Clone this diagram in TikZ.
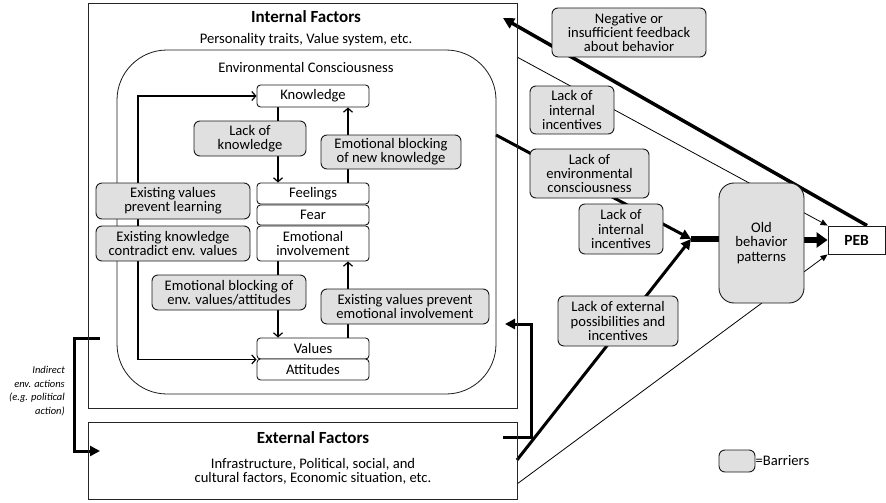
\documentclass[tikz,border=0pt]{standalone}
\usepackage{fontspec}
\setmainfont{Carlito}
\usetikzlibrary{arrows.meta}
\pgfdeclarelayer{bg}
\pgfsetlayers{bg,main}
\begin{document}
\begin{tikzpicture}[x=1pt,y=-1pt,
  txt/.style={font=\fontsize{14.6}{14.2}\selectfont, inner sep=0pt, align=center},
  wbox/.style={txt, draw=black!90, fill=white, rounded corners=3.5pt, line width=0.9pt, minimum width=112pt},
  barrier/.style={txt, draw=black!90, fill=black!12, rounded corners=6pt, line width=0.9pt},
  frame/.style={draw=black!85, line width=0.9pt, inner sep=0pt},
  inarr/.style={line width=1.2pt, -{Straight Barb[length=4pt,width=9pt]}},
  looparr/.style={line width=1.2pt, {Straight Barb[length=4pt,width=9pt]}-{Straight Barb[length=4pt,width=9pt]}},
  thinarr/.style={line width=0.8pt, -{Triangle[length=7pt,width=6pt]}},
  thickarr/.style={line width=3pt, -{Triangle[length=10pt,width=10pt]}},
]
\useasboundingbox (0,0) rectangle (886,503);

% frames
\node[frame, minimum width=429pt, minimum height=405pt] (internal) at (302.5,205.5) {};
\node[frame, minimum width=429pt, minimum height=77pt] (external) at (302.5,460.5) {};
\node[draw=black!90, line width=0.8pt, rounded corners=50pt, minimum width=379pt, minimum height=344pt, inner sep=0pt] (envc) at (306.5,222) {};

% titles
\node[txt, font=\fontsize{17}{17}\selectfont\bfseries] (inttitle) at (306,17) {Internal Factors};
\node[txt] (intsub) at (306,40) {Personality traits, Value system, etc.};
\node[txt] (envtitle) at (306,67) {Environmental Consciousness};
\node[txt, font=\fontsize{17}{17}\selectfont\bfseries] (exttitle) at (313,438) {External Factors};
\node[txt] (extsub) at (313,471) {Infrastructure, Political, social, and\\cultural factors, Economic situation, etc.};
\node[txt, font=\fontsize{10.5}{13.6}\selectfont\itshape, align=right, anchor=east] (indirect) at (65,391) {Indirect\\env. actions\\(e.g. political\\action)};

% white boxes
\node[wbox, minimum height=22pt] (knowledge) at (313,96) {Knowledge};
\node[wbox, minimum height=21pt] (feelings) at (313,193.5) {Feelings};
\node[wbox, minimum height=20pt] (fear) at (313,215) {Fear};
\node[wbox, minimum height=35pt] (emoinv) at (313,243.5) {Emotional\\involvement};
\node[wbox, minimum height=21pt] (values) at (313,348.5) {Values};
\node[wbox, minimum height=21pt] (attitudes) at (313,369.5) {Attitudes};

% barriers inside
\node[barrier, minimum width=112pt, minimum height=35pt] (lackk) at (250,138.5) {Lack of\\knowledge};
\node[barrier, minimum width=140pt, minimum height=34pt] (emonew) at (391,152) {Emotional blocking\\of new knowledge};
\node[barrier, minimum width=154pt, minimum height=36pt] (exvl) at (173,201) {Existing values\\prevent learning};
\node[barrier, minimum width=154pt, minimum height=35pt] (exkc) at (173,243.5) {Existing knowledge\\contradict env. values};
\node[barrier, minimum width=154pt, minimum height=35pt] (emoval) at (229,292.5) {Emotional blocking of\\env. values/attitudes};
\node[barrier, minimum width=168pt, minimum height=35pt] (exvem) at (405,306.5) {Existing values prevent\\emotional involvement};

% barriers outside
\node[barrier, minimum width=154pt, minimum height=49pt] (neg) at (629,32.5) {Negative or\\insufficient feedback\\about behavior};
\node[barrier, minimum width=84pt, minimum height=48pt] (lii1) at (572,110) {Lack of\\internal\\incentives};
\node[barrier, minimum width=119pt, minimum height=49pt] (lec) at (589.5,173.5) {Lack of\\environmental\\consciousness};
\node[barrier, minimum width=84pt, minimum height=50pt] (lii2) at (621,229) {Lack of\\internal\\incentives};
\node[barrier, minimum width=120pt, minimum height=50pt] (lep) at (618,321) {Lack of external\\possibilities and\\incentives};
\node[barrier, minimum width=85pt, minimum height=120pt, rounded corners=15pt] (old) at (761.5,243) {Old\\behavior\\patterns};
\node[txt, draw=black!90, fill=white, line width=0.9pt, minimum width=57pt, minimum height=28pt, font=\fontsize{15.5}{15.5}\selectfont\bfseries] (peb) at (856.5,240) {PEB};

% legend
\node[barrier, minimum width=36pt, minimum height=22pt] (legbox) at (737,461) {};
\node[txt, anchor=west] (legtxt) at (legbox.east) {=Barriers};

% coordinates
\coordinate (envout) at (496,135);
\coordinate (intout) at (517,57);
\coordinate (extout1) at (517,460);
\coordinate (extout2) at (517,484);
\coordinate (jn) at (691,239);
\coordinate (fbtip) at (503,18);
\coordinate (bRa) at (503,437);
\coordinate (bRx) at (531,380);
\coordinate (bRb) at (505,324);
\coordinate (bLa) at (100,338);
\coordinate (bLx) at (74,400);
\coordinate (bLb) at (100,451);
\coordinate (loopx) at (138,200);

\begin{pgfonlayer}{bg}
% inner arrows
\draw[inarr] ([xshift=-35pt]knowledge.south) -- ([xshift=-35pt]feelings.north);
\draw[inarr] ([xshift=35pt]feelings.north) -- ([xshift=35pt]knowledge.south);
\draw[inarr] ([xshift=-35pt]emoinv.south) -- ([xshift=-35pt]values.north);
\draw[inarr] ([xshift=35pt]values.north) -- ([xshift=35pt]emoinv.south);
\draw[looparr] (knowledge.west) -| (loopx) |- (values.south west);
% right side
\draw[thinarr] (intout) -- (peb.north west);
\draw[thinarr] (extout2) -- (peb.south west);
\draw[thickarr] (envout) -- (jn);
\draw[thickarr] (extout1) -- (jn);
\draw[line width=6pt] (jn) -- (jn -| old.west);
\draw[line width=6pt, -{Triangle[length=11pt,width=15pt]}] (old.east |- peb.west) -- (peb.west);
\draw[line width=3.5pt, -{Triangle[length=11pt,width=11pt]}] ([xshift=10.5pt]peb.north) -- (fbtip);
% brackets
\draw[thickarr] (bRa) -| (bRx) |- (bRb);
\draw[thickarr] (bLa) -| (bLx) |- (bLb);
\end{pgfonlayer}
\end{tikzpicture}
\end{document}
